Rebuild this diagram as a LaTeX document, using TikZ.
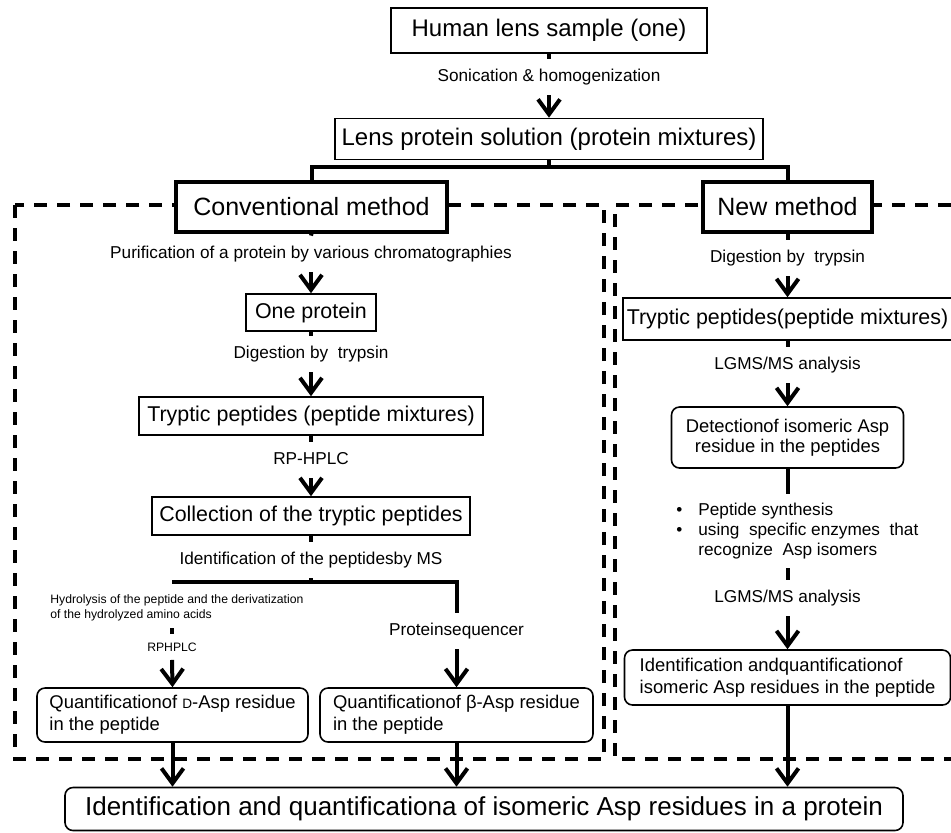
\documentclass[tikz,border=0pt]{standalone}
\usepackage{fontspec}
\setmainfont{Liberation Sans}
\usepackage{tikz}
\usetikzlibrary{arrows.meta}
\newcommand{\smD}{{\fontsize{6.8}{8}\selectfont D}}

\begin{document}
\begin{tikzpicture}[
  x=0.5pt, y=-0.5pt,
  >={Straight Barb[length=7.5pt,width=11pt]},
  plainbox/.style={draw=black, line width=0.8pt, inner sep=2pt, font=\fontsize{10.7}{12}\selectfont},
  bigbox/.style={plainbox, font=\fontsize{12}{14}\selectfont},
  hdr/.style={draw=black, line width=1.7pt, fill=white, inner sep=2pt, font=\fontsize{12.5}{14}\selectfont},
  rbox/.style={plainbox, rounded corners=4pt, font=\fontsize{9.2}{11}\selectfont},
  lbl/.style={font=\fontsize{8.6}{10}\selectfont, text height=6.2pt, text depth=1.8pt, inner xsep=1pt, inner ysep=5pt},
  tinylbl/.style={font=\fontsize{6.1}{7.5}\selectfont, inner sep=0pt},
  bullets/.style={font=\fontsize{8.6}{10}\selectfont, inner xsep=0pt, inner ysep=3.5pt},
  conn/.style={line width=2pt},
  arr/.style={conn, ->},
  dashframe/.style={line width=1.6pt, dash pattern=on 6.5pt off 5pt},
]
\useasboundingbox (0,0) rectangle (951,832);

\draw[dashframe] (15,205) rectangle (604,759);
\draw[dashframe] (951,205) -- (615,205) -- (615,759) -- (951,759);

\node[bigbox, minimum width=158pt, minimum height=22.5pt] (sample) at (549,30.5) {Human lens sample (one)};
\node[lbl] (sonic) at (549,77) {Sonication \& homogenization};
\node[bigbox, minimum width=214pt, minimum height=20.5pt] (solution) at (549,139) {Lens protein solution (protein mixtures)};
\coordinate (split) at (549,167);

\node[hdr, minimum width=135.5pt, minimum height=25pt] (conv) at (311.5,207) {Conventional method};
\node[hdr, minimum width=84.5pt, minimum height=25pt] (newm) at (787.5,207) {New method};

\node[lbl] (purif) at (311,254) {Purification of a protein by various chromatographies};
\node[plainbox, minimum width=65pt, minimum height=18.5pt] (onep) at (311,312.5) {One protein};
\node[lbl] (dig1) at (311,354) {Digestion by~ trypsin};
\node[plainbox, minimum width=172pt, minimum height=19pt] (tryp1) at (311,416) {Tryptic peptides (peptide mixtures)};
\node[lbl] (rp1) at (311,460) {RP-HPLC};
\node[plainbox, minimum width=159pt, minimum height=19pt] (collect) at (311,516) {Collection of the tryptic peptides};
\node[lbl] (idms) at (311,560) {Identification of the peptidesby MS};

\node[tinylbl, anchor=west, align=left] (hydro) at (50,607.5) {Hydrolysis of the peptide and the derivatization\\of the hydrolyzed amino acids};
\coordinate (hstub) at (172,628);
\node[tinylbl, text height=4.5pt, inner ysep=4pt] (rp2) at (172,647) {RPHPLC};
\node[rbox, align=left, minimum width=135.5pt, minimum height=27pt] (qD) at (172.5,715) {Quantificationof \smD-Asp residue\\in the peptide};

\node[lbl] (seq) at (456.5,631) {Proteinsequencer};
\node[rbox, align=left, minimum width=136.5pt, minimum height=27pt] (qB) at (456.5,715) {Quantificationof β-Asp residue\\in the peptide};
\coordinate (brL) at (172,582);
\coordinate (brR) at (456.5,582);

\node[lbl] (dig2) at (787.5,258) {Digestion by~ trypsin};
\node[plainbox, minimum width=163pt, minimum height=21pt] (tryp2) at (787.5,319) {Tryptic peptides(peptide mixtures)};
\node[lbl] (lg1) at (787.5,365) {LGMS/MS analysis};
\node[rbox, align=center, minimum width=116pt, minimum height=30.5pt, font=\fontsize{9.2}{10}\selectfont] (det) at (787.5,437.5) {Detectionof isomeric Asp\\residue in the peptides};
\node[bullets, anchor=west] (bul) at (676,531) {\begin{tabular}{@{}l@{\hspace{8pt}}l@{}}\textbullet & Peptide synthesis\\ \textbullet & using~ specific enzymes~ that\\ & recognize~ Asp isomers\end{tabular}};
\node[lbl] (lg2) at (787.5,598) {LGMS/MS analysis};
\node[rbox, align=left, minimum width=163pt, minimum height=27.5pt] (idq) at (787.5,677.5) {Identification andquantificationof\\isomeric Asp residues in the peptide};

\node[rbox, minimum width=419pt, minimum height=21.5pt, font=\fontsize{13}{15}\selectfont] (final) at (484,809) {Identification and quantificationa of isomeric Asp residues in a protein};

\draw[conn] (sample.south) -- (sonic.north);
\draw[arr] (sonic.south) -- (solution.north);
\draw[conn] (solution.south) -- (split);
\draw[conn] (split) -| (conv.north);
\draw[conn] (split) -| (newm.north);

\draw[conn] (conv.south) -- (purif.north);
\draw[arr] (purif.south) -- (onep.north);
\draw[conn] (onep.south) -- (dig1.north);
\draw[arr] (dig1.south) -- (tryp1.north);
\draw[conn] (tryp1.south) -- (rp1.north);
\draw[arr] (rp1.south) -- (collect.north);
\draw[conn] (collect.south) -- (idms.north);
\draw[conn] (idms.south) -- (idms.south |- brL);
\draw[conn] (brL) -- (brR) -- (seq.north);
\draw[arr] (seq.south) -- (qB.north);
\draw[conn] (hstub) -- (rp2.north);
\draw[arr] (rp2.south) -- (qD.north);

\draw[conn] (newm.south) -- (dig2.north);
\draw[arr] (dig2.south) -- (tryp2.north);
\draw[conn] (tryp2.south) -- (lg1.north);
\draw[arr] (lg1.south) -- (det.north);
\draw[conn] (det.south) -- (det.south |- bul.north);
\draw[conn] (det.south |- bul.south) -- (lg2.north);
\draw[arr] (lg2.south) -- (idq.north);

\draw[arr] (qD.south) -- (qD.south |- final.north);
\draw[arr] (qB.south) -- (qB.south |- final.north);
\draw[arr] (idq.south) -- (idq.south |- final.north);

\end{tikzpicture}
\end{document}
